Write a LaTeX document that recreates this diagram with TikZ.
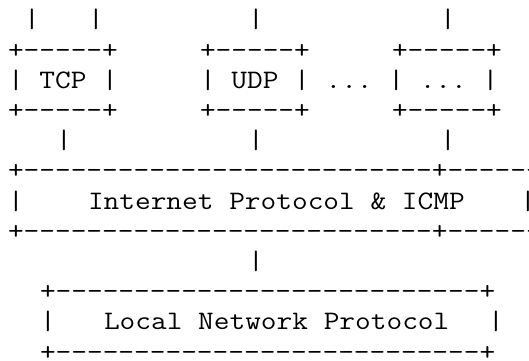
\documentclass[tikz,border=0pt]{standalone}
\usepackage{fontspec}
\usepackage{tikz}
\newfontfamily\asciifont{Latin Modern Mono}[FakeStretch = 1.143, Ligatures = TeXOff]

\begin{document}
\begin{tikzpicture}[ascii/.style = {font = \asciifont\fontsize{26.67bp}{30.2bp}\selectfont\frenchspacing, inner sep = 0pt, outer sep = 0pt, anchor = base west}, x = 16bp, y = -30.2bp]
  \useasboundingbox (-0.5, -0.927) rectangle (32.5625, 10.994);
  \clip (-0.5, -0.927) rectangle (32.5625, 10.994);
  % lines from above
  \node[ascii] (in a) at (1, 0) {|};
  \node[ascii] (in b) at (5, 0) {|};
  \node[ascii] (in c) at (15, 0) {|};
  \node[ascii] (in d) at (27, 0) {|};
  % transport layer
  \node[ascii] (tcp top) at (0, 1) {+-----+};
  \node[ascii] (udp top) at (12, 1) {+-----+};
  \node[ascii] (etc top) at (24, 1) {+-----+};
  \node[ascii] (tcp) at (0, 2) {| TCP |};
  \node[ascii] (udp) at (12, 2) {| UDP | ... | ... |};
  \node[ascii] (tcp bot) at (0, 3) {+-----+};
  \node[ascii] (udp bot) at (12, 3) {+-----+};
  \node[ascii] (etc bot) at (24, 3) {+-----+};
  \node[ascii] (out a) at (3, 4) {|};
  \node[ascii] (out b) at (15, 4) {|};
  \node[ascii] (out c) at (27, 4) {|};
  % internet layer
  \node[ascii] (ip top) at (0, 5) {+--------------------------+------};
  \node[ascii] (ip left) at (0, 6) {|};
  \node[ascii] (ip) at (5, 6) {Internet Protocol \& ICMP};
  \node[ascii] (ip right) at (32, 6) {|};
  \node[ascii] (ip bot) at (0, 7) {+--------------------------+------};
  \node[ascii] (down) at (15, 8) {|};
  % local network
  \node[ascii] (lnp top) at (2, 9) {+---------------------------+};
  \node[ascii] (lnp left) at (2, 10) {|};
  \node[ascii] (lnp) at (6, 10) {Local Network Protocol};
  \node[ascii] (lnp right) at (30, 10) {|};
  \node[ascii] (lnp bot) at (2, 11) {+---------------------------+};
\end{tikzpicture}
\end{document}
